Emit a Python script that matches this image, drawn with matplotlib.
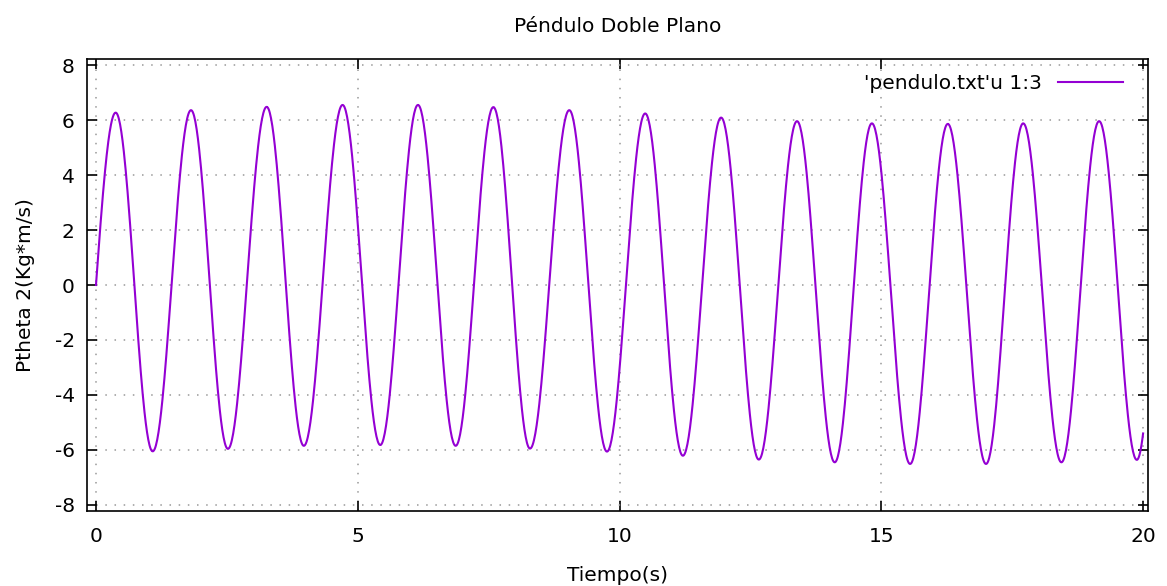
import matplotlib
matplotlib.use("Agg")
import matplotlib.pyplot as plt
import numpy as np

# extrema (time in s, value)
peak_t = [0.376, 1.815, 3.26, 4.71, 6.15, 7.59, 9.04, 10.49, 11.94, 13.39, 14.82, 16.27, 17.71, 19.16]
peak_v = [6.27, 6.36, 6.48, 6.55, 6.55, 6.47, 6.36, 6.24, 6.09, 5.96, 5.88, 5.86, 5.88, 5.96]
trough_t = [1.083, 2.52, 3.97, 5.43, 6.87, 8.29, 9.76, 11.21, 12.66, 14.11, 15.55, 17.0, 18.44, 19.88]
trough_v = [-6.05, -5.96, -5.85, -5.82, -5.85, -5.95, -6.06, -6.21, -6.35, -6.45, -6.51, -6.51, -6.45, -6.36]
start_t, start_v = 0.0, 0.0
end_t, end_v = 20.0, -5.4

xticks = [0, 5, 10, 15, 20]
yticks = [-8, -6, -4, -2, 0, 2, 4, 6, 8]

# knots in time order
knot_t = [start_t]
knot_v = [start_v]
for pt, pv, tt, tv in zip(peak_t, peak_v, trough_t, trough_v):
    knot_t += [pt, tt]
    knot_v += [pv, tv]

# draw the swing between consecutive extrema as half-cosine arcs
t_all, v_all = [], []
for i in range(len(knot_t) - 1):
    s = np.linspace(0, 1, 60)
    t0, t1 = knot_t[i], knot_t[i + 1]
    v0, v1 = knot_v[i], knot_v[i + 1]
    if i == 0:
        v = v1 * np.sin(np.pi / 2 * s)
    else:
        v = v0 + (v1 - v0) * (1 - np.cos(np.pi * s)) / 2
    t_all.append(t0 + (t1 - t0) * s)
    v_all.append(v)
# last partial rise up to the final sample
h = knot_t[-1] - knot_t[-2]
th_end = np.pi * (end_t - knot_t[-1]) / h
amp = (end_v - knot_v[-1]) / (1 - np.cos(th_end))
tt = np.linspace(knot_t[-1], end_t, 20)
t_all.append(tt)
v_all.append(knot_v[-1] + amp * (1 - np.cos(np.pi * (tt - knot_t[-1]) / h)))
t = np.concatenate(t_all)
p = np.concatenate(v_all)

plt.rcParams['font.family'] = 'DejaVu Sans'
plt.rcParams['axes.unicode_minus'] = False
fs = 14.5
fig = plt.figure(figsize=(11.67, 5.86), dpi=100)
ax = fig.add_axes([0.0748, 0.1285, 0.9092, 0.7703])

ax.plot(t, p, color='#9400D3', lw=1.5, label="'pendulo.txt'u 1:3")

ax.set_xlim(-0.166, 20.1)
ax.set_ylim(-8.21, 8.21)
ax.set_xticks(xticks)
ax.set_yticks(yticks)
ax.tick_params(direction='in', length=7, width=1.2, top=True, right=True,
               labelsize=fs, colors='black')
ax.tick_params(axis='x', pad=12)
ax.tick_params(axis='y', pad=9)
ax.grid(True, color='#999999', linestyle=(0, (1, 5)), lw=1.1)
for sp in ax.spines.values():
    sp.set_linewidth(1.2)

ax.set_title('Péndulo Doble Plano', fontsize=fs, pad=20)
ax.set_xlabel('Tiempo(s)', fontsize=fs, labelpad=14)
ax.set_ylabel('Ptheta 2(Kg*m/s)', fontsize=fs, labelpad=14)

ax.legend(loc='upper right', bbox_to_anchor=(0.976, 0.967), frameon=False,
          markerfirst=False, handlelength=3.2, handletextpad=0.8,
          borderaxespad=0, borderpad=0, fontsize=fs)

fig.savefig('out.png', dpi=100)
